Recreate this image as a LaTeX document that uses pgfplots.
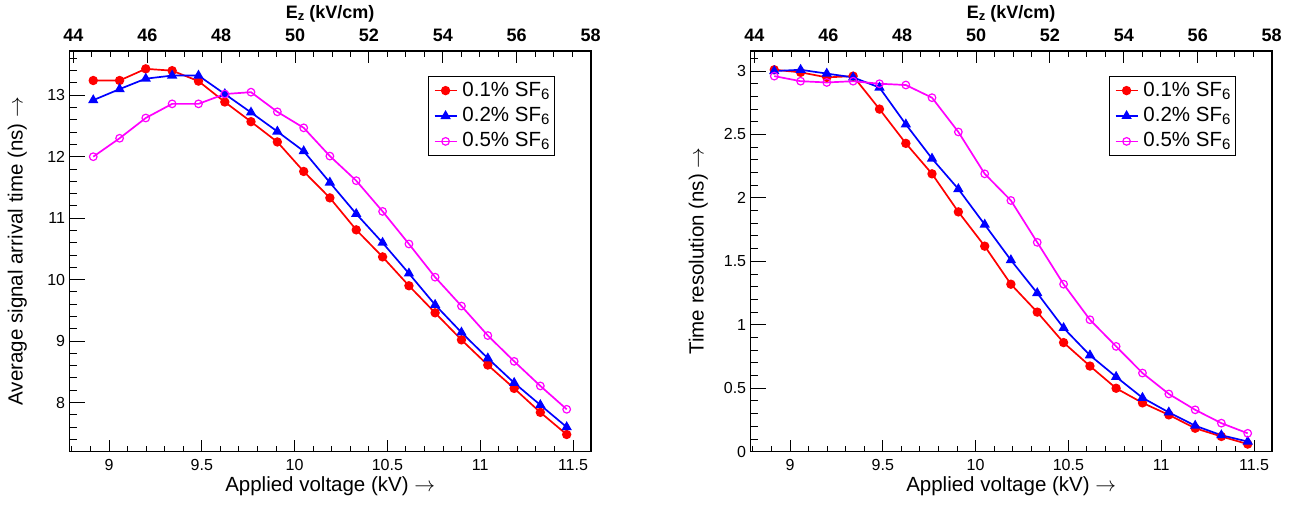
\documentclass[border=0pt]{standalone}
\usepackage{fontspec}
\setmainfont{Liberation Sans}
\usepackage{pgfplots}
\pgfplotsset{compat=1.18}
\definecolor{rred}{RGB}{255,0,0}
\definecolor{rblue}{RGB}{0,0,255}
\definecolor{rmag}{RGB}{255,0,255}
\newcommand{\ticksize}{\fontsize{16}{19}\selectfont}
\newcommand{\titlesize}{\fontsize{20.5}{24}\selectfont}
\newcommand{\topsize}{\fontsize{18}{21}\selectfont\bfseries}
\newcommand{\sfsix}{SF\raisebox{-3pt}{\fontsize{15}{18}\selectfont 6}}
\newcommand{\rarr}{$\rightarrow$}
\pgfplotsset{
  rootframe/.style={scale only axis, width=521.7pt, height=400.7pt, anchor=south west,
    tick align=inside, axis line style={line width=1.1pt},
    every tick/.append style={line width=1.0pt, black},
    ticklabel style={font=\ticksize, inner sep=0pt},
    /pgf/number format/assume math mode=true},
  xbottom/.style={xmin=8.786, xmax=11.597, xtick={9,9.5,10,10.5,11,11.5},
    minor xtick={8.8,8.9,...,11.55}, xtick pos=left, ytick=\empty,
    major tick length=12pt, minor tick length=6pt,
    xticklabel style={anchor=base, yshift=-18.3pt}},
  yleft/.style={xmin=8.786, xmax=11.597, xtick=\empty, ytick pos=left,
    major tick length=15.6pt, minor tick length=7.8pt,
    yticklabel style={anchor=east, xshift=-4pt}},
  xtopax/.style={xmin=43.89, xmax=58.01, ymin=0, ymax=1, xtick={44,46,...,58},
    minor xtick={44,44.5,...,58}, xtick pos=right, xticklabel pos=right, ytick=\empty,
    major tick length=12pt, minor tick length=6pt,
    xticklabel style={anchor=base, yshift=9.3pt, font=\topsize}},
  sred/.style={color=rred, line width=1.7pt, mark=*, mark size=3.8pt, mark options={solid}},
  sblue/.style={color=rblue, line width=1.7pt, mark=triangle*, mark size=4.3pt, mark options={solid}},
  smag/.style={color=rmag, line width=1.7pt, mark=o, mark size=3.8pt, mark options={solid, line width=1.2pt, fill=none}},
  rootlegend/.style={legend cell align=left,
    legend image code/.code={\draw[mark repeat=2, mark phase=2, ##1] plot coordinates {(0pt,0pt) (11pt,0pt) (22pt,0pt)};},
    legend style={at={(axis description cs:0.688,0.9376)}, anchor=north west, draw=black, line width=1pt,
      inner xsep=5pt, inner ysep=4.6pt, row sep=6.4pt, column sep=5pt, font=\titlesize,
      nodes={inner sep=0pt, text height=15pt, text depth=4pt}}},
}
\begin{document}
\begin{tikzpicture}
\path[use as bounding box] (0pt,0pt) rectangle (1289pt,504pt);
% ---------------- left panel ----------------
\begin{axis}[rootframe, xbottom, rootlegend, at={(69.3pt,52.3pt)}, ymin=7.2, ymax=13.72]
\addplot[sred] coordinates {(8.915,13.24) (9.057,13.24) (9.198,13.43) (9.340,13.40) (9.482,13.23) (9.624,12.89) (9.765,12.57) (9.907,12.24) (10.049,11.76) (10.190,11.33) (10.332,10.81) (10.474,10.37) (10.616,9.90) (10.757,9.46) (10.899,9.02) (11.041,8.61) (11.183,8.23) (11.324,7.84) (11.466,7.48)};
\addlegendentry{0.1\% \sfsix\hspace{6pt}}
\addplot[sblue] coordinates {(8.915,12.92) (9.057,13.10) (9.198,13.27) (9.340,13.32) (9.482,13.32) (9.624,13.02) (9.765,12.72) (9.907,12.41) (10.049,12.09) (10.190,11.58) (10.332,11.07) (10.474,10.60) (10.616,10.10) (10.757,9.59) (10.899,9.14) (11.041,8.72) (11.183,8.32) (11.324,7.96) (11.466,7.60)};
\addlegendentry{0.2\% \sfsix\hspace{6pt}}
\addplot[smag] coordinates {(8.915,12.00) (9.057,12.30) (9.198,12.63) (9.340,12.86) (9.482,12.86) (9.624,13.02) (9.765,13.05) (9.907,12.73) (10.049,12.47) (10.190,12.01) (10.332,11.61) (10.474,11.11) (10.616,10.58) (10.757,10.04) (10.899,9.57) (11.041,9.09) (11.183,8.67) (11.324,8.27) (11.466,7.89)};
\addlegendentry{0.5\% \sfsix\hspace{6pt}}
\end{axis}
\begin{axis}[rootframe, yleft, at={(69.3pt,52.3pt)}, ymin=7.2, ymax=13.72,
  ytick={8,9,10,11,12,13}, minor ytick={7.4,7.6,...,13.65}]
\end{axis}
\begin{axis}[rootframe, xtopax, at={(69.3pt,52.3pt)}]
\end{axis}
% ---------------- right panel ----------------
\begin{axis}[rootframe, xbottom, rootlegend, at={(750.3pt,52.3pt)}, ymin=0, ymax=3.158]
\addplot[sred] coordinates {(8.915,3.01) (9.057,2.99) (9.198,2.95) (9.340,2.96) (9.482,2.70) (9.624,2.43) (9.765,2.19) (9.907,1.89) (10.049,1.62) (10.190,1.32) (10.332,1.10) (10.474,0.86) (10.616,0.675) (10.757,0.50) (10.899,0.385) (11.041,0.29) (11.183,0.185) (11.324,0.12) (11.466,0.06)};
\addlegendentry{0.1\% \sfsix\hspace{6pt}}
\addplot[sblue] coordinates {(8.915,3.00) (9.057,3.01) (9.198,2.98) (9.340,2.95) (9.482,2.87) (9.624,2.58) (9.765,2.31) (9.907,2.07) (10.049,1.79) (10.190,1.51) (10.332,1.25) (10.474,0.975) (10.616,0.76) (10.757,0.59) (10.899,0.425) (11.041,0.31) (11.183,0.205) (11.324,0.13) (11.466,0.08)};
\addlegendentry{0.2\% \sfsix\hspace{6pt}}
\addplot[smag] coordinates {(8.915,2.96) (9.057,2.92) (9.198,2.91) (9.340,2.92) (9.482,2.90) (9.624,2.89) (9.765,2.79) (9.907,2.52) (10.049,2.19) (10.190,1.98) (10.332,1.65) (10.474,1.32) (10.616,1.04) (10.757,0.83) (10.899,0.62) (11.041,0.455) (11.183,0.33) (11.324,0.225) (11.466,0.145)};
\addlegendentry{0.5\% \sfsix\hspace{6pt}}
\end{axis}
\begin{axis}[rootframe, yleft, at={(750.3pt,52.3pt)}, ymin=0, ymax=3.158,
  ytick={0,0.5,1,1.5,2,2.5,3}, minor ytick={0,0.1,...,3.12}]
\end{axis}
\begin{axis}[rootframe, xtopax, at={(750.3pt,52.3pt)}]
\end{axis}
% ---------------- titles ----------------
\node[anchor=base, font=\titlesize] at (330.2pt,12.3pt) {Applied voltage (kV) \rarr};
\node[anchor=base, font=\titlesize] at (1011.2pt,12.3pt) {Applied voltage (kV) \rarr};
\node[rotate=90, anchor=base, font=\titlesize] at (22.7pt,253pt) {Average signal arrival time (ns) \rarr};
\node[rotate=90, anchor=base, font=\titlesize] at (703.6pt,253pt) {Time resolution (ns) \rarr};
\node[anchor=base, font=\topsize] at (330.2pt,485.7pt) {E\raisebox{-2.5pt}{\fontsize{13}{15}\selectfont z} (kV/cm)};
\node[anchor=base, font=\topsize] at (1011.2pt,485.7pt) {E\raisebox{-2.5pt}{\fontsize{13}{15}\selectfont z} (kV/cm)};
\end{tikzpicture}
\end{document}
